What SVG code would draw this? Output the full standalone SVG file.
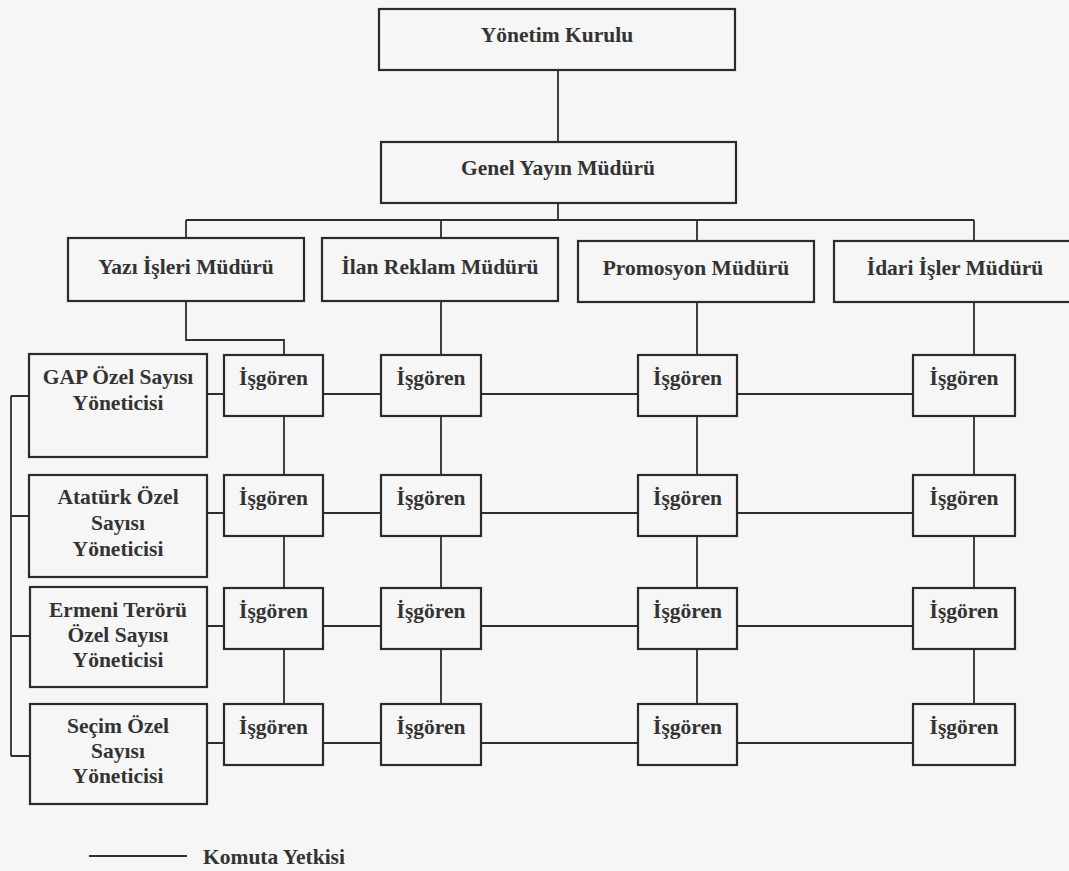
<svg xmlns="http://www.w3.org/2000/svg" width="1069" height="871" viewBox="0 0 1069 871">
  <style>
    .box { fill: none; stroke: #2b2b2b; stroke-width: 2.2; }
    .ln { fill: none; stroke: #2e2e2e; stroke-width: 1.8; }
    .lbl { font-family: 'Liberation Serif', 'DejaVu Serif', serif; font-weight: bold; font-size: 21.5px; fill: #333333; text-anchor: middle; }
  </style>
  <rect width="1069" height="871" fill="#f6f6f6"/>

  <!-- connectors -->
  <g id="connectors" class="ln">
    <!-- board to editor-in-chief -->
    <path d="M558 70 V142"/>
    <!-- editor-in-chief to managers bus -->
    <path d="M558 203 V220"/>
    <path d="M186 220 H974"/>
    <path d="M186 220 V238"/>
    <path d="M441 220 V238"/>
    <path d="M697 220 V241"/>
    <path d="M974 220 V241"/>
    <!-- managers down to first staff row -->
    <path d="M186 301 V340 H284 V355"/>
    <path d="M441 301 V355"/>
    <path d="M697 302 V355"/>
    <path d="M974 302 V355"/>
    <!-- vertical staff chains -->
    <path d="M284 416 V475 M284 536 V588 M284 649 V704"/>
    <path d="M441 416 V475 M441 536 V588 M441 649 V704"/>
    <path d="M697 416 V475 M697 536 V588 M697 649 V704"/>
    <path d="M974 416 V475 M974 536 V588 M974 649 V704"/>
    <!-- horizontal staff rows -->
    <path d="M207 394 H224 M323 394 H381 M481 394 H638 M737 394 H913"/>
    <path d="M207 513 H224 M323 513 H381 M481 513 H638 M737 513 H913"/>
    <path d="M207 626 H224 M323 626 H381 M481 626 H638 M737 626 H913"/>
    <path d="M207 743 H224 M323 743 H381 M481 743 H638 M737 743 H913"/>
    <!-- left bracket joining special issue managers -->
    <path d="M11 396 V756"/>
    <path d="M11 396 H29 M11 516 H29 M11 636 H29 M11 756 H29"/>
    <!-- legend line -->
    <path d="M89 856 H187"/>
  </g>

  <g class="lbl" font-family="'Liberation Serif', 'DejaVu Serif', serif">
  <g id="yonetim-kurulu">
    <rect class="box" x="379" y="9" width="356" height="61"/>
    <text x="557" y="42">Yönetim Kurulu</text>
  </g>
  <g id="genel-yayin">
    <rect class="box" x="381" y="142" width="355" height="61"/>
    <text x="558" y="175">Genel Yayın Müdürü</text>
  </g>

  <g id="yazi-isleri">
    <rect class="box" x="68" y="238" width="236" height="63"/>
    <text x="186" y="274">Yazı İşleri Müdürü</text>
  </g>
  <g id="ilan-reklam">
    <rect class="box" x="322" y="238" width="236" height="63"/>
    <text x="440" y="274">İlan Reklam Müdürü</text>
  </g>
  <g id="promosyon">
    <rect class="box" x="578" y="241" width="236" height="61"/>
    <text x="696" y="275">Promosyon Müdürü</text>
  </g>
  <g id="idari-isler">
    <rect class="box" x="834" y="241" width="238" height="61"/>
    <text x="955" y="275">İdari İşler Müdürü</text>
  </g>

  <g id="gap">
    <rect class="box" x="29" y="354" width="178" height="103"/>
    <text x="118" y="384">GAP Özel Sayısı</text>
    <text x="118" y="410">Yöneticisi</text>
  </g>
  <g id="ataturk">
    <rect class="box" x="29" y="475" width="178" height="102"/>
    <text x="118" y="504">Atatürk Özel</text>
    <text x="118" y="530">Sayısı</text>
    <text x="118" y="556">Yöneticisi</text>
  </g>
  <g id="ermeni">
    <rect class="box" x="30" y="587" width="177" height="100"/>
    <text x="118" y="617">Ermeni Terörü</text>
    <text x="118" y="642">Özel Sayısı</text>
    <text x="118" y="667">Yöneticisi</text>
  </g>
  <g id="secim">
    <rect class="box" x="30" y="704" width="177" height="100"/>
    <text x="118" y="733">Seçim Özel</text>
    <text x="118" y="758">Sayısı</text>
    <text x="118" y="783">Yöneticisi</text>
  </g>

  <!-- staff grid: columns at x 224 / 381 / 638 / 913 -->
  <g id="isgoren-1-1"><rect class="box" x="224" y="355" width="99" height="61"/><text x="273.5" y="385">İşgören</text></g>
  <g id="isgoren-1-2"><rect class="box" x="381" y="355" width="100" height="61"/><text x="431" y="385">İşgören</text></g>
  <g id="isgoren-1-3"><rect class="box" x="638" y="355" width="99" height="61"/><text x="687.5" y="385">İşgören</text></g>
  <g id="isgoren-1-4"><rect class="box" x="913" y="355" width="102" height="61"/><text x="964" y="385">İşgören</text></g>

  <g id="isgoren-2-1"><rect class="box" x="224" y="475" width="99" height="61"/><text x="273.5" y="505">İşgören</text></g>
  <g id="isgoren-2-2"><rect class="box" x="381" y="475" width="100" height="61"/><text x="431" y="505">İşgören</text></g>
  <g id="isgoren-2-3"><rect class="box" x="638" y="475" width="99" height="61"/><text x="687.5" y="505">İşgören</text></g>
  <g id="isgoren-2-4"><rect class="box" x="913" y="475" width="102" height="61"/><text x="964" y="505">İşgören</text></g>

  <g id="isgoren-3-1"><rect class="box" x="224" y="588" width="99" height="61"/><text x="273.5" y="618">İşgören</text></g>
  <g id="isgoren-3-2"><rect class="box" x="381" y="588" width="100" height="61"/><text x="431" y="618">İşgören</text></g>
  <g id="isgoren-3-3"><rect class="box" x="638" y="588" width="99" height="61"/><text x="687.5" y="618">İşgören</text></g>
  <g id="isgoren-3-4"><rect class="box" x="913" y="588" width="102" height="61"/><text x="964" y="618">İşgören</text></g>

  <g id="isgoren-4-1"><rect class="box" x="224" y="704" width="99" height="61"/><text x="273.5" y="734">İşgören</text></g>
  <g id="isgoren-4-2"><rect class="box" x="381" y="704" width="100" height="61"/><text x="431" y="734">İşgören</text></g>
  <g id="isgoren-4-3"><rect class="box" x="638" y="704" width="99" height="61"/><text x="687.5" y="734">İşgören</text></g>
  <g id="isgoren-4-4"><rect class="box" x="913" y="704" width="102" height="61"/><text x="964" y="734">İşgören</text></g>

  <g id="legend">
    <text x="203" y="864" text-anchor="start" style="text-anchor:start">Komuta Yetkisi</text>
  </g>
  </g>
</svg>
